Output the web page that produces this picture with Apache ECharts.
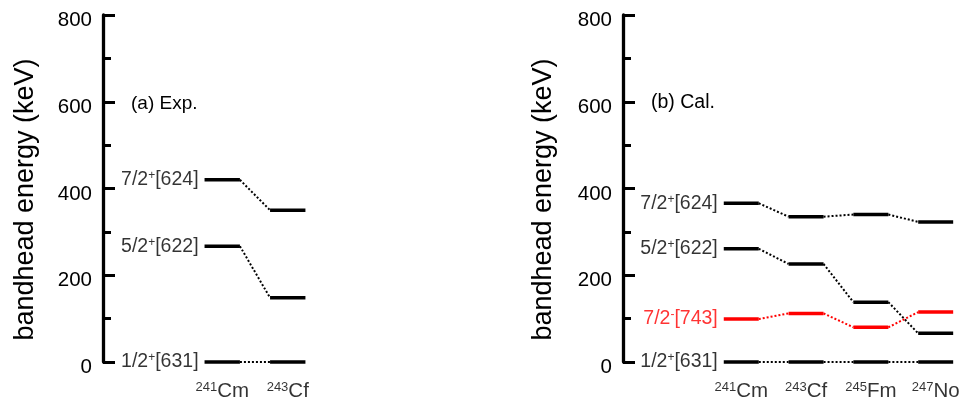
<!DOCTYPE html>
<html>
<head>
<meta charset="utf-8">
<script src="https://cdn.jsdelivr.net/npm/echarts@6/dist/echarts.min.js"></script>
<style>
html,body{margin:0;padding:0;background:#fff;}
#chart{width:964px;height:408px;}
</style>
</head>
<body>
<div id="chart"></div>
<script>
// ---- data ----
const expMass = ['241', '243'];
const expElem = ['Cm', 'Cf'];
const calMass = ['241', '243', '245', '247'];
const calElem = ['Cm', 'Cf', 'Fm', 'No'];

const expLevelNames = [
  ['1/2', '+', '[631]'],
  ['5/2', '+', '[622]'],
  ['7/2', '+', '[624]']
];
const exp_half = [0, 0];
const exp_5_2 = [267, 148];
const exp_7_2 = [420, 350];

const calLevelNames = [
  ['1/2', '+', '[631]'],
  ['7/2', '-', '[743]'],
  ['5/2', '+', '[622]'],
  ['7/2', '+', '[624]']
];
const cal_half = [0, 0, 0, 0];
const cal_7_2m = [99, 112, 80, 115];
const cal_5_2 = [261, 226, 138, 66];
const cal_7_2p = [366, 335, 340, 323];

const yTicks = [0, 200, 400, 600, 800];
const yTitle = 'bandhead energy (keV)';
const panelTitles = ['(a) Exp.', '(b) Cal.'];

// ---- build ----
const FONT = 'Arial, "Liberation Sans", sans-serif';
const HW = 0.27;

function levelSeries(vals, color, gi) {
  return {
    type: 'custom',
    xAxisIndex: gi, yAxisIndex: gi,
    silent: true,
    data: vals.map((v, i) => [i, v]),
    renderItem: function (params, api) {
      const i = api.value(0), v = api.value(1);
      const p1 = api.coord([i - HW, v]);
      const p2 = api.coord([i + HW, v]);
      const children = [{
        type: 'line',
        shape: {x1: p1[0], y1: p1[1], x2: p2[0], y2: p2[1]},
        style: {stroke: color, lineWidth: 3.5}
      }];
      if (i + 1 < vals.length) {
        const q = api.coord([i + 1 - HW, vals[i + 1]]);
        children.push({
          type: 'line',
          shape: {x1: p2[0], y1: p2[1], x2: q[0], y2: q[1]},
          style: {stroke: color, lineWidth: 2, lineDash: [2, 2]}
        });
      }
      return {type: 'group', children: children};
    }
  };
}

function levelLabelSeries(names, firstVals, colors, gi) {
  return {
    type: 'scatter',
    xAxisIndex: gi, yAxisIndex: gi,
    symbolSize: 0,
    silent: true,
    data: names.map((n, k) => ({
      value: [-HW, firstVals[k]],
      label: {
        show: true,
        position: 'left',
        distance: 6,
        formatter: '{n|' + n[0] + '}{sup|' + n[1] + '}{n|' + n[2] + '}',
        rich: {
          n: {fontSize: 19.5, color: colors[k], fontFamily: FONT},
          sup: {fontSize: 12, verticalAlign: 'top', color: colors[k], fontFamily: FONT, padding: [0, 0, 8, 0]}
        }
      }
    }))
  };
}

function nucleusLabelSeries(mass, elem, gi) {
  return {
    type: 'scatter',
    xAxisIndex: gi, yAxisIndex: gi,
    symbolSize: 0,
    silent: true,
    data: mass.map((m, i) => ({
      value: [i, 0],
      label: {
        show: true,
        position: 'bottom',
        distance: 19,
        formatter: '{sup|' + m + '}{n|' + elem[i] + '}',
        rich: {
          n: {fontSize: 20.5, color: '#000', fontFamily: FONT},
          sup: {fontSize: 13, verticalAlign: 'top', color: '#000', fontFamily: FONT, padding: [0, 0, 8, 0]}
        }
      }
    }))
  };
}

function yAxis(gi, nameGap) {
  return {
    type: 'value', gridIndex: gi, min: 0, max: 800, interval: 200,
    name: yTitle, nameLocation: 'middle', nameGap: nameGap,
    nameTextStyle: {fontSize: 27, color: '#000', fontFamily: FONT, padding: [0, 22, 0, 0]},
    axisLine: {show: true, onZero: false, lineStyle: {color: '#000', width: 3.3}},
    axisTick: {show: true, inside: true, length: 12, lineStyle: {color: '#000', width: 3}},
    minorTick: {show: true, splitNumber: 2, length: 8, lineStyle: {color: '#000', width: 3}},
    splitLine: {show: false},
    minorSplitLine: {show: false},
    axisLabel: {
      margin: 11,
      formatter: v => (yTicks.indexOf(v) >= 0 ? '{v|' + v + '}' : ''),
      rich: {v: {fontSize: 20.5, color: '#000', fontFamily: FONT, padding: [11, 0, 0, 0]}}
    }
  };
}

const option = {
  animation: false,
  backgroundColor: '#fff',
  grid: [
    {left: 103, top: 15, height: 347, width: 217.5},
    {left: 623, top: 15, height: 347, width: 338.6}
  ],
  xAxis: [
    {type: 'value', gridIndex: 0, min: -1.82, max: 1.5, show: false},
    {type: 'value', gridIndex: 1, min: -1.825, max: 3.4, show: false}
  ],
  yAxis: [yAxis(0, 64), yAxis(1, 66)],
  graphic: [
    {type: 'text', left: 131, top: 94, style: {text: panelTitles[0], fontSize: 19, fontFamily: FONT, fill: '#000'}},
    {type: 'text', left: 651, top: 93, style: {text: panelTitles[1], fontSize: 19.5, fontFamily: FONT, fill: '#000'}}
  ],
  series: [
    levelSeries(exp_half, '#000', 0),
    levelSeries(exp_5_2, '#000', 0),
    levelSeries(exp_7_2, '#000', 0),
    levelLabelSeries(expLevelNames, [exp_half[0], exp_5_2[0], exp_7_2[0]], ['#000', '#000', '#000'], 0),
    nucleusLabelSeries(expMass, expElem, 0),
    levelSeries(cal_half, '#000', 1),
    levelSeries(cal_5_2, '#000', 1),
    levelSeries(cal_7_2p, '#000', 1),
    levelSeries(cal_7_2m, '#ff0000', 1),
    levelLabelSeries(calLevelNames, [cal_half[0], cal_7_2m[0], cal_5_2[0], cal_7_2p[0]], ['#000', '#ff0000', '#000', '#000'], 1),
    nucleusLabelSeries(calMass, calElem, 1)
  ]
};

const chart = echarts.init(document.getElementById('chart'), null, {renderer: 'canvas'});
chart.setOption(option);
</script>
</body>
</html>
